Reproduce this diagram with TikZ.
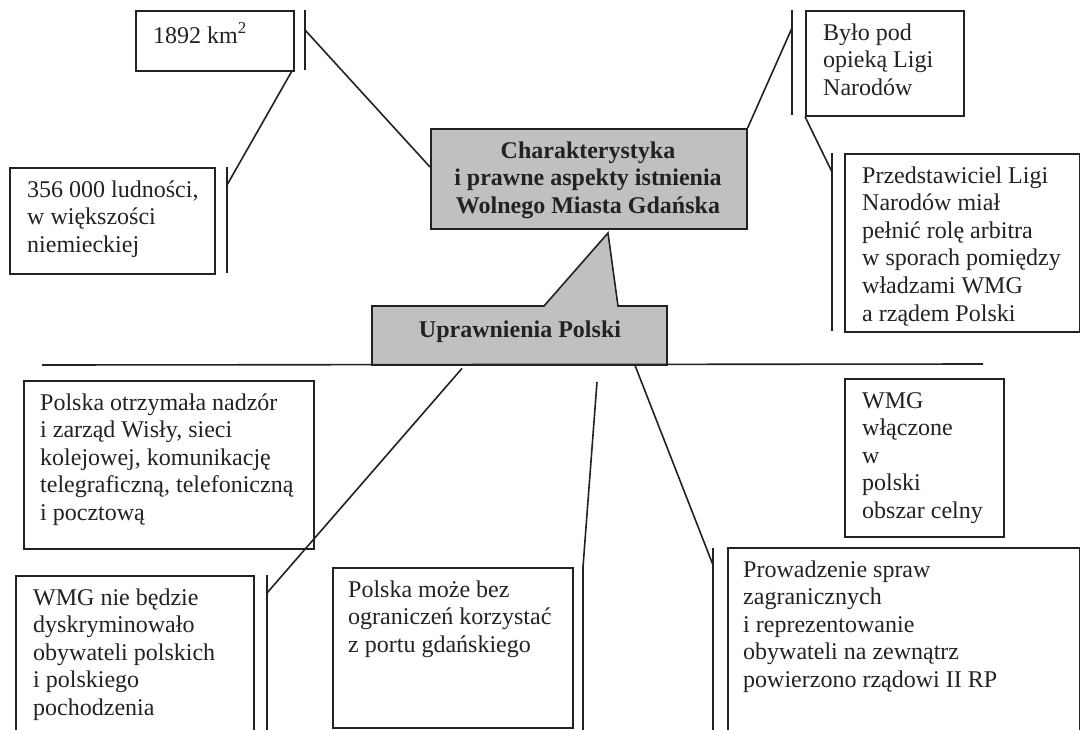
\documentclass[tikz,border=0pt]{standalone}
\usepackage{fontspec}
\setmainfont{Liberation Serif}
\usetikzlibrary{calc}
\definecolor{gfill}{HTML}{C0C0C0}
\definecolor{ink}{HTML}{222222}
\newcommand{\txtL}[1]{\begin{tabular}[t]{@{}l@{}}#1\end{tabular}}
\newcommand{\txtC}[1]{\begin{tabular}[t]{@{}c@{}}#1\end{tabular}}
\begin{document}
\begin{tikzpicture}[x=1pt,y=-1pt,
  ln/.style={line width=1.6pt, draw=ink},
  wbox/.style={ln, fill=white, rectangle, inner sep=0pt, anchor=north west},
  gbox/.style={ln, fill=gfill, rectangle, inner sep=0pt, anchor=north west},
  txt/.style={inner sep=0pt, anchor=base west, font=\fontsize{24}{27.6}\selectfont, text=ink},
  btxt/.style={inner sep=0pt, anchor=base, font=\fontsize{24}{27.6}\selectfont\bfseries, text=ink}]
\path[use as bounding box] (0,0) rectangle (1080,729);
\clip (0,0) rectangle (1080,729);
\fill[white] (0,0) rectangle (1080,729);

% boxes
\node[wbox, minimum width=158pt, minimum height=60pt] (km) at (135,10) {};
\node[wbox, minimum width=205pt, minimum height=106pt] (lud) at (9,167) {};
\node[gbox, minimum width=316pt, minimum height=100pt] (main) at (430,128) {};
\node[wbox, minimum width=158pt, minimum height=105pt] (liga) at (805,10) {};
\node[wbox, minimum width=235pt, minimum height=178pt] (arb) at (844,153) {};
\node[wbox, minimum width=290pt, minimum height=168pt] (nadz) at (23,380) {};
\node[wbox, minimum width=159pt, minimum height=158pt] (celny) at (844,378) {};
\node[wbox, minimum width=238pt, minimum height=180pt] (dysk) at (15,575) {};
\node[wbox, minimum width=240pt, minimum height=160pt] (port) at (332,567) {};
\node[wbox, minimum width=352pt, minimum height=200pt] (spraw) at (727,547) {};

% callout "Uprawnienia Polski"
\coordinate (apex) at (608,233);
\draw[ln, fill=gfill, line join=miter] (372,365) -- (372,306) -- (544,306) -- (apex) -- (618,306) -- (667,306) -- (667,365) -- cycle;
\node[inner sep=0pt, minimum width=295pt, minimum height=59pt, anchor=north west] (upr) at (372,306) {};

% separator line
\coordinate (hl) at (42,365);
\coordinate (hr) at (983,364);
\draw[ln] (hl) -- (hr);

% texts
\node[txt] (t-km) at (153,43) {1892 km\textsuperscript{2}};
\node[txt] (t-lud) at (27,197) {\txtL{356 000 ludności,\\ w większości\\ niemieckiej}};
\node[btxt] (t-main) at (588,158) {\txtC{Charakterystyka\\ i prawne aspekty istnienia\\ Wolnego Miasta Gdańska}};
\node[txt] (t-liga) at (823,40) {\txtL{Było pod\\ opieką Ligi\\ Narodów}};
\node[txt] (t-arb) at (862,183) {\txtL{Przedstawiciel Ligi\\ Narodów miał\\ pełnić rolę arbitra\\ w sporach pomiędzy\\ władzami WMG\\ a rządem Polski}};
\node[btxt] (t-upr) at (520,337) {Uprawnienia Polski};
\node[txt] (t-nadz) at (40,410) {\txtL{Polska otrzymała nadzór\\ i zarząd Wisły, sieci\\ kolejowej, komunikację\\ telegraficzną, telefoniczną\\ i pocztową}};
\node[txt] (t-celny) at (862,408) {\txtL{WMG\\ włączone\\ w\\ polski\\ obszar celny}};
\node[txt] (t-dysk) at (33,605) {\txtL{WMG nie będzie\\ dyskryminowało\\ obywateli polskich\\ i polskiego\\ pochodzenia}};
\node[txt] (t-port) at (348,597) {\txtL{Polska może bez\\ ograniczeń korzystać\\ z portu gdańskiego}};
\node[txt] (t-spraw) at (743,577) {\txtL{Prowadzenie spraw\\ zagranicznych\\ i reprezentowanie\\ obywateli na zewnątrz\\ powierzono rządowi II RP}};

% connectors with bars
\coordinate (b1t) at (305,10); \coordinate (b1b) at (305,70); \coordinate (b1j) at (305,30);
\draw[ln] (b1t) -- (b1b);
\draw[ln] (b1j) -- (main.west |- 0,167);

\coordinate (b2t) at (227,167); \coordinate (b2b) at (227,273); \coordinate (b2j) at (227,185);
\draw[ln] (b2t) -- (b2b);
\draw[ln] ($(km.south east)+(-3,0)$) -- (b2j);

\coordinate (b3t) at (792,10); \coordinate (b3b) at (792,115); \coordinate (b3j) at (792,28);
\draw[ln] (b3t) -- (b3b);
\draw[ln] (b3j) -- (main.north east);

\coordinate (b4t) at (832,153); \coordinate (b4b) at (832,331); \coordinate (b4j) at (832,172);
\draw[ln] (b4t) -- (b4b);
\draw[ln] (liga.south west) -- (b4j);

\coordinate (b5t) at (267,575); \coordinate (b5b) at (267,740); \coordinate (b5j) at (267,593);
\draw[ln] (b5t) -- (b5b);
\draw[ln] (upr.south west -| 462,0) ++(0,3) -- (b5j);

\coordinate (b6t) at (597,382); \coordinate (b6m) at (583,567); \coordinate (b6b) at (583,740);
\draw[ln] (b6t) -- (b6m) -- (b6b);

\coordinate (b7t) at (713,548); \coordinate (b7b) at (713,740); \coordinate (b7j) at (713,565);
\draw[ln] (b7t) -- (b7b);
\draw[ln] (upr.south west -| 635,0) -- (b7j);
\end{tikzpicture}
\end{document}
